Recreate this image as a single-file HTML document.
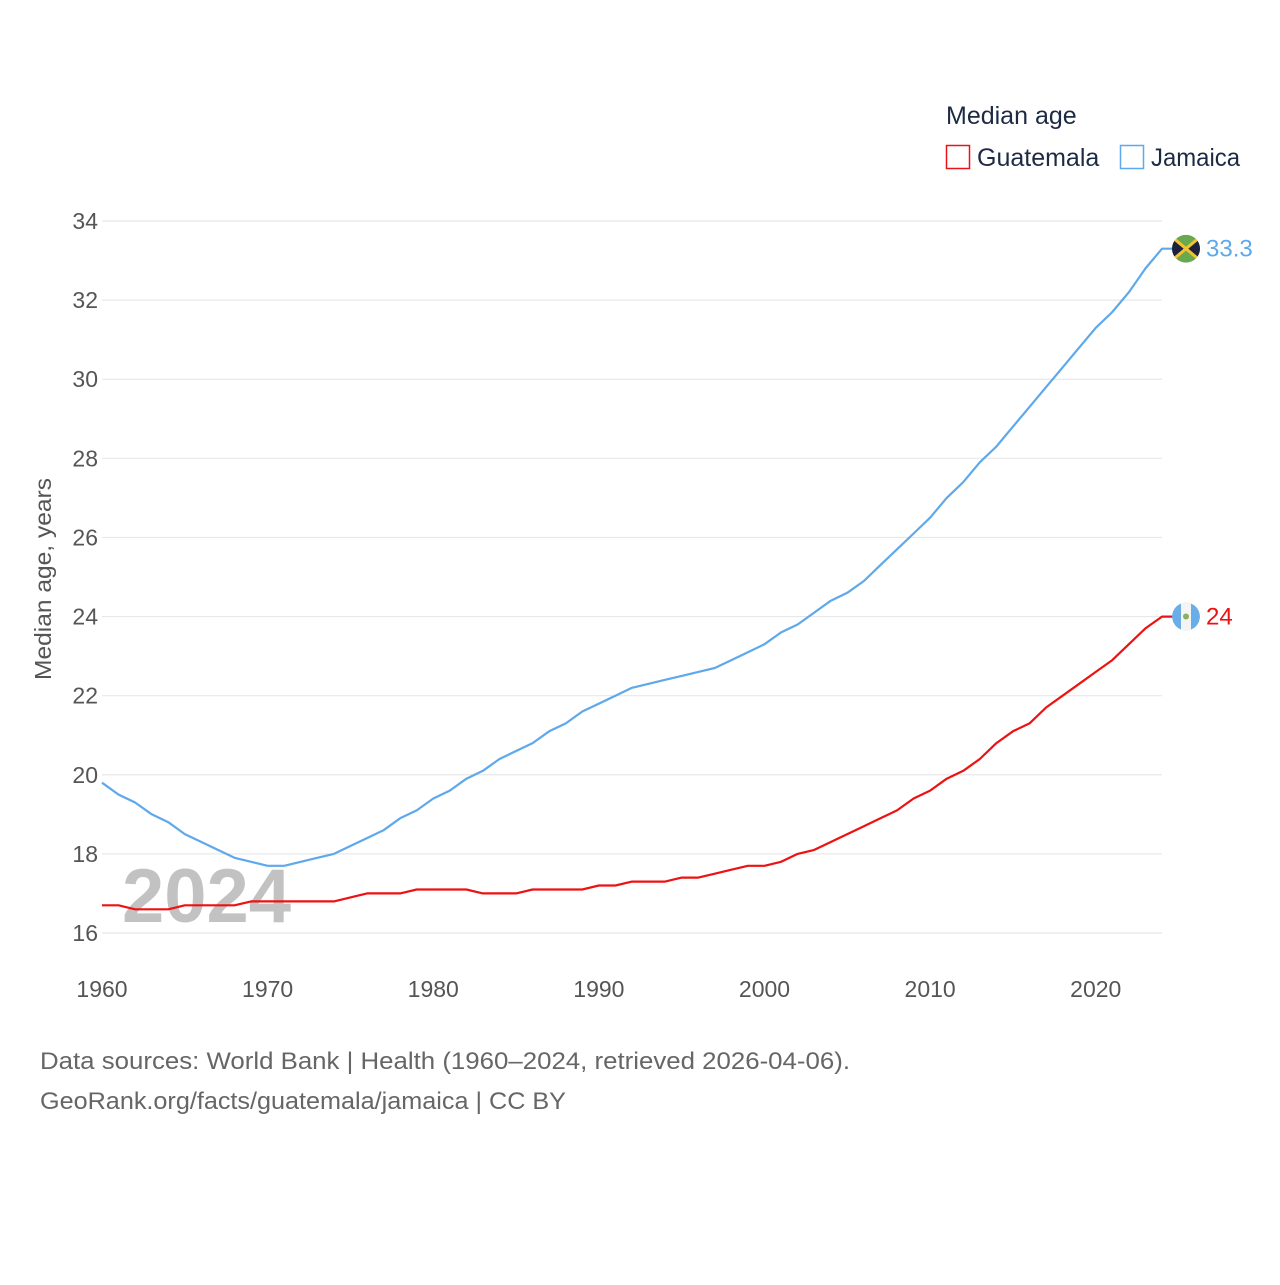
<!DOCTYPE html>
<html><head><meta charset="utf-8"><style>
body{margin:0;background:#fff;font-family:"Liberation Sans",sans-serif;}
svg text{font-family:"Liberation Sans",sans-serif;}
</style></head><body>
<svg width="1280" height="1280" xmlns="http://www.w3.org/2000/svg">
<g id="grid"></g>
<g id="yt"></g>
<g id="xt"></g>
<text x="122" y="922" font-size="76" font-weight="bold" fill="#c2c2c2">2024</text>
<text transform="translate(51,579) rotate(-90)" text-anchor="middle" font-size="23" fill="#555" textLength="202" lengthAdjust="spacingAndGlyphs">Median age, years</text>
<g id="series"></g>
<g>
<text x="946" y="124" font-size="25" fill="#1d2a44">Median age</text>
<rect x="946.5" y="145.5" width="23" height="23" fill="none" stroke="#e8141a" stroke-width="1.5"/>
<text x="977" y="166" font-size="25" fill="#1d2a44">Guatemala</text>
<rect x="1120.5" y="145.5" width="23" height="23" fill="none" stroke="#5ea8ec" stroke-width="1.5"/>
<text x="1151" y="166" font-size="25" fill="#1d2a44" textLength="89" lengthAdjust="spacingAndGlyphs">Jamaica</text>
</g>
<text x="40" y="1069" font-size="24" fill="#666" textLength="810" lengthAdjust="spacingAndGlyphs">Data sources: World Bank | Health (1960–2024, retrieved 2026-04-06).</text>
<text x="40" y="1109" font-size="24" fill="#666" textLength="526" lengthAdjust="spacingAndGlyphs">GeoRank.org/facts/guatemala/jamaica | CC BY</text>
</svg>
<script>
const years=[];for(let y=1960;y<=2024;y++)years.push(y);
const jamaica=[19.8,19.5,19.3,19.0,18.8,18.5,18.3,18.1,17.9,17.8,17.7,17.7,17.8,17.9,18.0,18.2,18.4,18.6,18.9,19.1,19.4,19.6,19.9,20.1,20.4,20.6,20.8,21.1,21.3,21.6,21.8,22.0,22.2,22.3,22.4,22.5,22.6,22.7,22.9,23.1,23.3,23.6,23.8,24.1,24.4,24.6,24.9,25.3,25.7,26.1,26.5,27.0,27.4,27.9,28.3,28.8,29.3,29.8,30.3,30.8,31.3,31.7,32.2,32.8,33.3];
const guatemala=[16.7,16.7,16.6,16.6,16.6,16.7,16.7,16.7,16.7,16.8,16.8,16.8,16.8,16.8,16.8,16.9,17.0,17.0,17.0,17.1,17.1,17.1,17.1,17.0,17.0,17.0,17.1,17.1,17.1,17.1,17.2,17.2,17.3,17.3,17.3,17.4,17.4,17.5,17.6,17.7,17.7,17.8,18.0,18.1,18.3,18.5,18.7,18.9,19.1,19.4,19.6,19.9,20.1,20.4,20.8,21.1,21.3,21.7,22.0,22.3,22.6,22.9,23.3,23.7,24.0];
const yTicks=[16,18,20,22,24,26,28,30,32,34];
const xTicks=[1960,1970,1980,1990,2000,2010,2020];
const NS="http://www.w3.org/2000/svg";
const X=v=>102+(v-1960)*(1162-102)/64;
const Y=v=>933-(v-16)*(933-221)/18;
function mk(t,a,p){const e=document.createElementNS(NS,t);for(const k in a)e.setAttribute(k,a[k]);p.appendChild(e);return e;}
const grid=document.getElementById('grid'),yt=document.getElementById('yt'),xt=document.getElementById('xt'),ser=document.getElementById('series');
const svg=document.querySelector('svg');
const defs=mk('defs',{},svg);
yTicks.forEach(v=>{
 const l=mk('line',{x1:102,x2:1162,y1:Y(v),y2:Y(v),stroke:'#e8e8e8','stroke-width':1.2},grid);
 
 
 const t=mk('text',{x:98,y:Y(v)+8,'text-anchor':'end','font-size':23,fill:'#555'},yt);
 t.textContent=v;
 
 
});
xTicks.forEach(v=>{
 const t=mk('text',{x:X(v),y:997,'text-anchor':'middle','font-size':23,fill:'#555'},xt);
 t.textContent=v;
 
 
});
function series(vals,color,name,label){
 let d=vals.map((v,i)=>(i?'L':'M')+X(years[i]).toFixed(1)+' '+Y(v).toFixed(1)).join(' ');
 const last=vals[vals.length-1];
 d+=' L'+(X(2024)+12)+' '+Y(last).toFixed(1);
 const p=mk('path',{d:d,fill:'none',stroke:color,'stroke-width':2.2,'stroke-linejoin':'round'},ser);
 
 
 const cx=X(2024)+24,cy=Y(last);
 const cp=mk('clipPath',{id:'clip-'+name},defs);
 mk('circle',{cx:cx,cy:cy,r:14},cp);
 const g=mk('g',{'clip-path':'url(#clip-'+name+')'},ser);
 
 
 if(name==='jamaica'){
  mk('circle',{cx:cx,cy:cy,r:14,fill:'#6aa84f'},g);
  mk('path',{d:`M${cx-14} ${cy-10}L${cx} ${cy}L${cx-14} ${cy+10}Z M${cx+14} ${cy-10}L${cx} ${cy}L${cx+14} ${cy+10}Z`,fill:'#1a2240'},g);
  mk('path',{d:`M${cx-12} ${cy-10}L${cx+12} ${cy+10}M${cx+12} ${cy-10}L${cx-12} ${cy+10}`,stroke:'#f2c230','stroke-width':3},g);
 }else{
  mk('circle',{cx:cx,cy:cy,r:14,fill:'#6aaee8'},g);
  mk('rect',{x:cx-5,y:cy-14,width:10,height:28,fill:'#f4f4f4'},g);
  mk('circle',{cx:cx,cy:cy,r:3,fill:'#8ab060'},g);
 }
 const t=mk('text',{x:cx+20,y:cy+8,'font-size':24,fill:color},ser);
 t.textContent=label;
 
 
}
series(jamaica,'#5ea8ec','jamaica','33.3');
series(guatemala,'#ee1111','guatemala','24');
</script>
</body></html>
